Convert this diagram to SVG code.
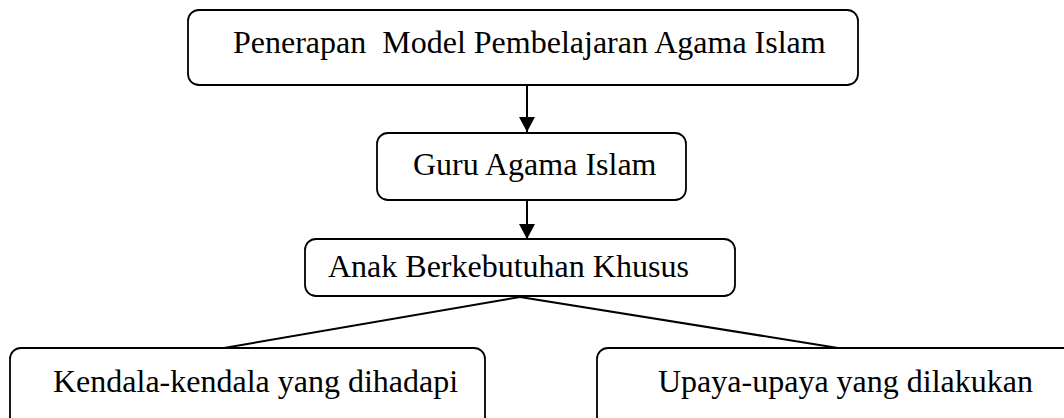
<svg xmlns="http://www.w3.org/2000/svg" width="1064" height="418" viewBox="0 0 1064 418">
<style>
.box{fill:#fff;stroke:#000;stroke-width:1.8}
.t{font-family:"Liberation Serif","Times New Roman",serif;font-size:32px;fill:#000}
.c{stroke:#000;stroke-width:2;fill:none}
</style>
<defs>
<marker id="ah" markerWidth="15" markerHeight="16" refX="15" refY="8" orient="auto" markerUnits="userSpaceOnUse">
<path d="M0,0 L15,8 L0,16 Z" fill="#000"/>
</marker>
</defs>
<rect width="1064" height="418" fill="#fff"/>
<g id="connectors">
<line class="c" x1="527" y1="85" x2="527" y2="132" marker-end="url(#ah)"/>
<line class="c" x1="527" y1="200" x2="527" y2="239" marker-end="url(#ah)"/>
<line class="c" x1="520" y1="297" x2="224" y2="348"/>
<line class="c" x1="520" y1="297" x2="838" y2="348"/>
</g>
<g id="n1">
<rect class="box" x="188" y="10" width="670" height="75" rx="11"/>
<text class="t" x="233" y="53" xml:space="preserve">Penerapan  Model Pembelajaran Agama Islam</text>
</g>
<g id="n2">
<rect class="box" x="377" y="133" width="309" height="67" rx="11"/>
<text class="t" x="413" y="175">Guru Agama Islam</text>
</g>
<g id="n3">
<rect class="box" x="305" y="239" width="430" height="57" rx="11"/>
<text class="t" x="328" y="277">Anak Berkebutuhan Khusus</text>
</g>
<g id="n4">
<rect class="box" x="10" y="348" width="475" height="90" rx="11"/>
<text class="t" x="53" y="392">Kendala-kendala yang dihadapi</text>
</g>
<g id="n5">
<rect class="box" x="597" y="348" width="490" height="90" rx="11"/>
<text class="t" x="658" y="392">Upaya-upaya yang dilakukan</text>
</g>
</svg>
